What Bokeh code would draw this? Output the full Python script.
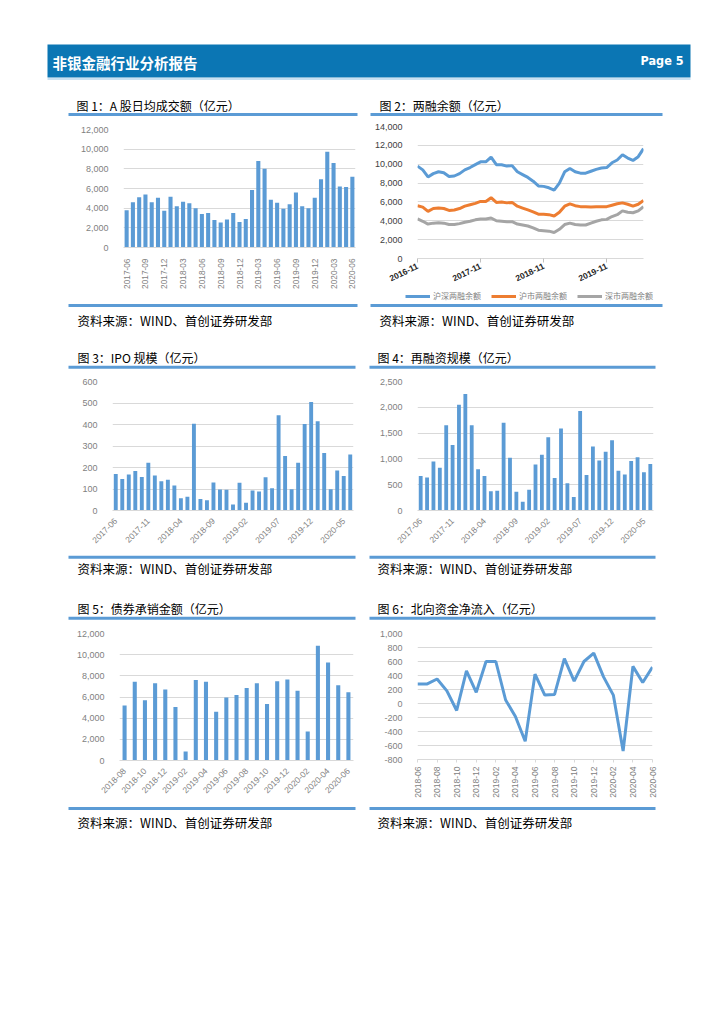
import math
from bokeh.plotting import figure
from bokeh.models import (Range1d, FixedTicker, SingleIntervalTicker, NumeralTickFormatter,
                          Legend, LegendItem)
from bokeh.layouts import column, row
from bokeh.embed import file_html
from bokeh.resources import INLINE
from bokeh.core.properties import value

# ---------------- data ----------------
months_1706_2006 = ["2017-06", "2017-07", "2017-08", "2017-09", "2017-10", "2017-11", "2017-12",
                    "2018-01", "2018-02", "2018-03", "2018-04", "2018-05", "2018-06", "2018-07",
                    "2018-08", "2018-09", "2018-10", "2018-11", "2018-12", "2019-01", "2019-02",
                    "2019-03", "2019-04", "2019-05", "2019-06", "2019-07", "2019-08", "2019-09",
                    "2019-10", "2019-11", "2019-12", "2020-01", "2020-02", "2020-03", "2020-04",
                    "2020-05", "2020-06"]

# Fig 1: A-share average daily turnover (100m CNY)
turnover = [3800, 4600, 5100, 5400, 4600, 5050, 3750, 5150, 4200, 4650, 4500, 4000, 3400, 3500,
            2800, 2550, 2850, 3500, 2600, 2900, 5850, 8800, 8000, 4850, 4550, 3950, 4400, 5600,
            4200, 4000, 5050, 6950, 9750, 8600, 6200, 6150, 7200]

# Fig 2: margin balance
months_1611_2006 = ["2016-11", "2016-12", "2017-01", "2017-02", "2017-03", "2017-04", "2017-05",
                    "2017-06", "2017-07", "2017-08", "2017-09", "2017-10", "2017-11", "2017-12",
                    "2018-01", "2018-02", "2018-03", "2018-04", "2018-05", "2018-06", "2018-07",
                    "2018-08", "2018-09", "2018-10", "2018-11", "2018-12", "2019-01", "2019-02",
                    "2019-03", "2019-04", "2019-05", "2019-06", "2019-07", "2019-08", "2019-09",
                    "2019-10", "2019-11", "2019-12", "2020-01", "2020-02", "2020-03", "2020-04",
                    "2020-05", "2020-06"]
margin_total = [9800, 9400, 8650, 9000, 9200, 9100, 8700, 8750, 9000, 9400, 9650, 9950, 10250,
                10250, 10750, 9950, 9950, 9800, 9850, 9200, 8900, 8600, 8200, 7700, 7650, 7500,
                7250, 8000, 9200, 9550, 9200, 9050, 9050, 9250, 9450, 9600, 9650, 10150, 10450,
                11000, 10650, 10400, 10800, 11650]
margin_sh = [5600, 5450, 5000, 5300, 5350, 5300, 5100, 5150, 5300, 5550, 5700, 5850, 6050, 6050,
             6450, 5950, 6000, 5900, 5950, 5550, 5350, 5150, 4950, 4700, 4700, 4650, 4500, 4900,
             5550, 5800, 5600, 5500, 5500, 5450, 5500, 5500, 5500, 5650, 5800, 5900, 5750, 5550,
             5750, 6150]
margin_sz = [4200, 3950, 3650, 3750, 3800, 3750, 3600, 3600, 3700, 3850, 3950, 4100, 4200, 4200,
             4300, 4000, 3950, 3900, 3900, 3650, 3550, 3450, 3250, 3000, 2950, 2900, 2750, 3100,
             3600, 3750, 3600, 3550, 3550, 3750, 3950, 4100, 4150, 4450, 4650, 5050, 4900, 4850,
             5050, 5500]
margin_labels = ["沪深两融余额", "沪市两融余额", "深市两融余额"]
margin_colors = ["#5b9bd5", "#ed7d31", "#a5a5a5"]

# Fig 3: IPO size
ipo = [170, 147, 167, 184, 156, 222, 163, 136, 143, 116, 57, 64, 403, 53, 48, 130, 98, 96, 28,
       129, 36, 93, 88, 155, 104, 443, 253, 99, 222, 402, 505, 415, 268, 99, 186, 161, 260]

# Fig 4: refinancing size
refin = [670, 640, 950, 830, 1650, 1270, 2050, 2260, 1650, 800, 670, 375, 381, 1700, 1020, 362,
         168, 400, 890, 1080, 1420, 630, 1590, 530, 260, 1930, 690, 1240, 970, 1140, 1360, 770,
         700, 960, 1030, 740, 900]

# Fig 5: bond underwriting
months_1808_2006 = ["2018-08", "2018-09", "2018-10", "2018-11", "2018-12", "2019-01", "2019-02",
                    "2019-03", "2019-04", "2019-05", "2019-06", "2019-07", "2019-08", "2019-09",
                    "2019-10", "2019-11", "2019-12", "2020-01", "2020-02", "2020-03", "2020-04",
                    "2020-05", "2020-06"]
bond_uw = [5200, 7450, 5700, 7300, 6700, 5050, 850, 7600, 7450, 4600, 5950, 6200, 6850, 7300,
           5350, 7500, 7650, 6600, 2750, 10850, 9250, 7100, 6450]

# Fig 6: northbound net inflow
months_1806_2006 = ["2018-06", "2018-07", "2018-08", "2018-09", "2018-10", "2018-11", "2018-12",
                    "2019-01", "2019-02", "2019-03", "2019-04", "2019-05", "2019-06", "2019-07",
                    "2019-08", "2019-09", "2019-10", "2019-11", "2019-12", "2020-01", "2020-02",
                    "2020-03", "2020-04", "2020-05", "2020-06"]
northbound = [280, 280, 350, 180, -100, 465, 160, 600, 600, 50, -185, -540, 420, 120, 130, 640,
              320, 600, 720, 380, 120, -680, 530, 300, 520]

titles = ["图 1：A 股日均成交额（亿元）", "图 2：两融余额（亿元）",
          "图 3：IPO 规模（亿元）", "图 4：再融资规模（亿元）",
          "图 5：债券承销金额（亿元）", "图 6：北向资金净流入（亿元）"]
source_text = "资料来源：WIND、首创证券研发部"
header_title = "非银金融行业分析报告"
header_page = "Page 5"

# ---------------- styles ----------------
CJK = "Noto Sans CJK SC"
NUM = "Liberation Sans"
RULE = "#5b9bd5"
BAR = "#5b9bd5"
GRID = "#d9d9d9"
TICK = "#7f7f7f"
HEADER = "#0b76b4"
W = 716


def no_align(p):
    try:
        p.frame_align = False
    except Exception:
        pass


def strip(y0, y1):
    p = figure(width=W, height=int(round(y1 - y0)), x_range=Range1d(0, W),
               y_range=Range1d(y1, y0), x_axis_type=None, y_axis_type=None,
               toolbar_location=None, output_backend="svg", min_border=0,
               outline_line_color=None, title=None)
    return p


def rules(p, y, spans):
    p.segment(x0=[s[0] for s in spans], x1=[s[1] for s in spans], y0=[y] * len(spans),
              y1=[y] * len(spans), line_width=3, line_color=RULE)


def texts(p, xs, y, txt, size="12px", color="#000000"):
    p.text(x=xs, y=[y] * len(xs), text=txt, text_font=value(CJK), text_font_size=size,
           text_color=color, text_baseline="middle", text_align="left")


def chart(width, height, bl, br, bt, bb, xr, yr, interval, ticks, labels, orient,
          xlab_size="8.5px", xlab_color=TICK, xlab_style="normal", ylab_color=TICK,
          xstandoff=5):
    p = figure(width=width, height=height, x_range=xr, y_range=yr, toolbar_location=None,
               output_backend="svg", min_border_left=bl, min_border_right=br,
               min_border_top=bt, min_border_bottom=bb, outline_line_color=None, title=None)
    no_align(p)
    p.xgrid.visible = False
    yt = SingleIntervalTicker(interval=interval, num_minor_ticks=0)
    p.yaxis.ticker = yt
    p.ygrid.ticker = yt
    p.ygrid.grid_line_color = GRID
    p.ygrid.grid_line_width = 1
    p.yaxis.formatter = NumeralTickFormatter(format="0,0")
    p.yaxis.axis_line_color = None
    p.yaxis.major_tick_line_color = None
    p.yaxis.minor_tick_line_color = None
    p.yaxis.major_label_standoff = 9
    p.yaxis.major_label_text_font = NUM
    p.yaxis.major_label_text_font_size = "9px"
    p.yaxis.major_label_text_color = ylab_color
    p.xaxis.ticker = FixedTicker(ticks=ticks, minor_ticks=[])
    p.xaxis.major_label_overrides = {t: labels[t] for t in ticks}
    p.xaxis.major_label_orientation = orient
    p.xaxis.axis_line_color = GRID
    p.xaxis.major_tick_line_color = None
    p.xaxis.minor_tick_line_color = None
    p.xaxis.major_label_standoff = xstandoff
    p.xaxis.major_label_text_font = NUM
    p.xaxis.major_label_text_font_size = xlab_size
    p.xaxis.major_label_text_color = xlab_color
    p.xaxis.major_label_text_font_style = xlab_style
    return p


def bar_chart(width, height, bl, br, bt, bb, cats, vals, ymax, interval, step, orient,
              bar_w, xstandoff=5, xlab_size="8.5px"):
    n = len(cats)
    idx = list(range(n))
    p = chart(width, height, bl, br, bt, bb, Range1d(-0.5, n - 0.5), Range1d(0, ymax),
              interval, idx[::step], cats, orient, xstandoff=xstandoff, xlab_size=xlab_size)
    p.vbar(x=idx, top=vals, width=bar_w, fill_color=BAR, line_color=None)
    return p


# ---------------- header ----------------
hdr = strip(0, 92)
hdr.quad(left=[47], right=[690], top=[44], bottom=[77], fill_color=HEADER, line_color=None)
hdr.segment(x0=[47], x1=[690], y0=[78.5], y1=[78.5], line_color="#b7d7ee", line_width=1.5)
hdr.text(x=[52], y=[62], text=[header_title], text_font=value(CJK), text_font_size="14.5px",
         text_font_style="bold", text_color="white", text_baseline="middle")
hdr.text(x=[683], y=[60], text=[header_page], text_font=value("DejaVu Sans Condensed"),
         text_font_size="12.5px", text_font_style="bold", text_color="white",
         text_baseline="middle", text_align="right")

# ---------------- row 1 ----------------
t1 = strip(92, 120)
texts(t1, [76, 379], 105, titles[0:2])
rules(t1, 114, [(68, 357), (370, 662)])

c1 = bar_chart(364, 171, 123, 9, 9, 36, months_1706_2006, turnover, 12000, 2000, 3,
               math.pi / 2, 0.65, xstandoff=5, xlab_size="8.3px")

n2 = len(months_1611_2006)
x2 = list(range(n2))
c2 = chart(352, 171, 53, 73, 6, 33, Range1d(0, n2 - 1), Range1d(0, 14000), 2000,
           x2[::12], months_1611_2006, 0.45, xlab_size="8.5px", xlab_color="#262626",
           xlab_style="bold", ylab_color="#404040", xstandoff=3)
c2.xaxis.major_tick_line_color = "#bfbfbf"
c2.xaxis.major_tick_out = 4
c2.xaxis.major_tick_in = 0
for vals, col in zip([margin_total, margin_sh, margin_sz], margin_colors):
    c2.line(x2, vals, line_color=col, line_width=3)

# strip below row 1 holds the legend of fig 2, the rules and the source notes
S1_TOP, S1_BOT = 291, 340
s1 = strip(S1_TOP, S1_BOT)
# one-point key lines: invisible on the strip, they only give the legend its line styles
key_lines = [s1.line(x=[0], y=[S1_BOT], line_color=col, line_width=3) for col in margin_colors]
leg = Legend(items=[LegendItem(label=lab, renderers=[r])
                    for lab, r in zip(margin_labels, key_lines)],
             orientation="horizontal", location=(405, S1_BOT - 301), label_text_font=CJK,
             label_text_font_size="8px", label_text_color=TICK, glyph_width=25,
             glyph_height=8, label_height=8, label_standoff=3, spacing=10, padding=0,
             margin=0, border_line_color=None, background_fill_alpha=0)
s1.add_layout(leg)
rules(s1, 305, [(68, 357), (370, 662)])
texts(s1, [77, 379], 319.5, [source_text, source_text], size="12.5px")

# ---------------- row 2 ----------------
t2 = strip(340, 372)
texts(t2, [77, 377], 356.7, titles[2:4])
rules(t2, 366.7, [(68, 355), (369, 655)])

c3 = bar_chart(364, 181, 112, 11, 9, 43, months_1706_2006, ipo, 600, 100, 5, math.pi / 4, 0.6,
               xstandoff=3)
c4 = bar_chart(352, 181, 53, 63, 9, 43, months_1706_2006, refin, 2500, 500, 5, math.pi / 4,
               0.6, xstandoff=3)

s2 = strip(553, 592)
rules(s2, 556.7, [(68, 355), (369, 655)])
texts(s2, [77, 377], 568, [source_text, source_text], size="12.5px")

# ---------------- row 3 ----------------
t3 = strip(592, 624)
texts(t3, [77, 377], 608, titles[4:6])
rules(t3, 617.7, [(68, 355), (369, 655)])

c5 = bar_chart(364, 181, 119, 11, 9, 45, months_1808_2006, bond_uw, 12000, 2000, 2,
               math.pi / 4, 0.4, xstandoff=3)

n6 = len(months_1806_2006)
x6 = list(range(n6))
c6 = chart(352, 181, 53, 64, 9, 46, Range1d(0, n6 - 1), Range1d(-800, 1000), 200, x6[::2],
           months_1806_2006, math.pi / 2, xstandoff=4)
c6.xaxis.major_tick_line_color = GRID
c6.xaxis.major_tick_out = 3
c6.xaxis.major_tick_in = 0
c6.line(x6, northbound, line_color="#5b9bd5", line_width=3)

s3 = strip(805, 840)
rules(s3, 808, [(68, 355), (369, 655)])
texts(s3, [77, 377], 821.7, [source_text, source_text], size="12.5px")

page = column(hdr, t1, row(c1, c2, spacing=0), s1, t2, row(c3, c4, spacing=0), s2, t3,
              row(c5, c6, spacing=0), s3, spacing=0)

open("out.html", "w").write(file_html(page, INLINE))
